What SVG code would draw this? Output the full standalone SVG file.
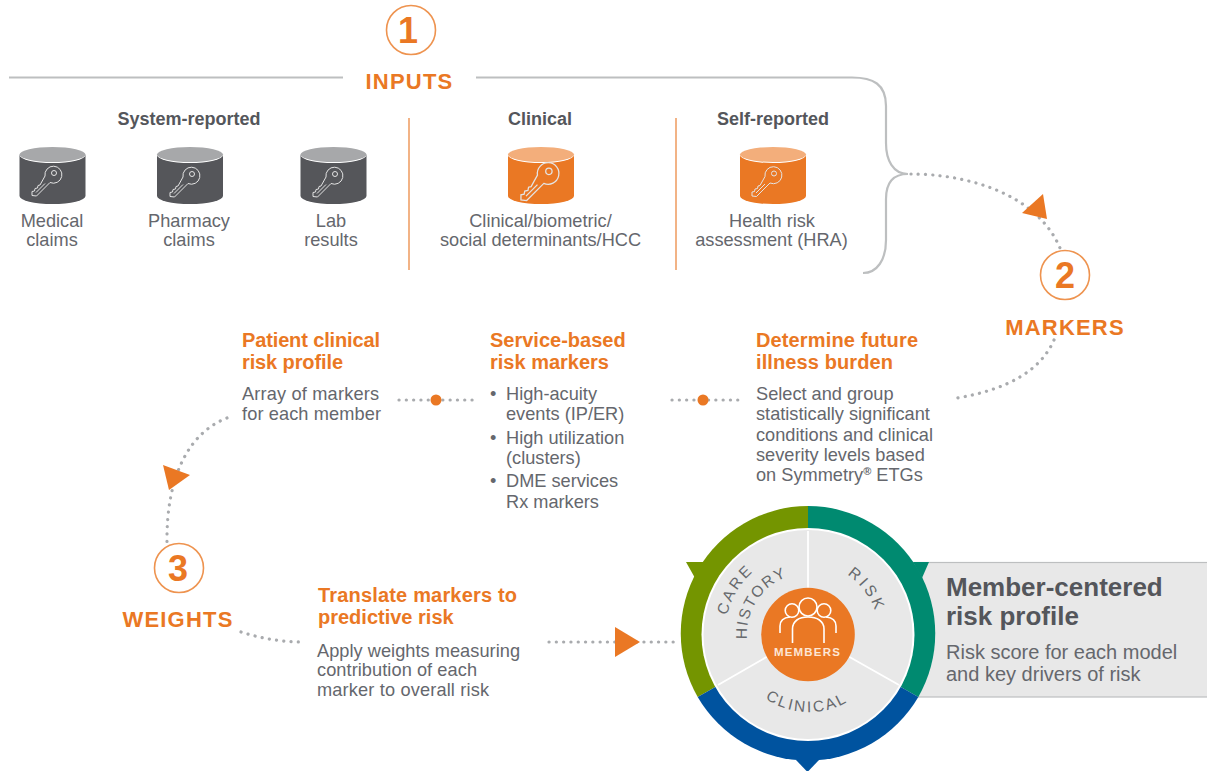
<svg xmlns="http://www.w3.org/2000/svg" width="1207" height="771" viewBox="0 0 1207 771">
<style>
text{font-family:"Liberation Sans",Arial,sans-serif}
.t{font-size:18.2px;fill:#65676d;text-anchor:middle}
.l{font-size:18.2px;fill:#65676d}
.h{font-size:20px;font-weight:700;fill:#ea7824}
.s{font-size:18px;font-weight:700;fill:#54565b;text-anchor:middle}
.big{font-size:22px;font-weight:700;fill:#ea7824;text-anchor:middle;letter-spacing:1.2px}
.num{font-size:36px;font-weight:700;fill:#ea7824;text-anchor:middle}
.c{fill:#fff;stroke:#ee934f;stroke-width:1.6}
.dot{fill:none;stroke:#a9abae;stroke-width:3.2;stroke-linecap:round;stroke-dasharray:0.1 7.2}
.rule{stroke:#ee9a5f;stroke-width:1.5}
.tip{fill:#ea7824}
.key{fill:none;stroke:#e4e4e4;stroke-width:1}
.ring{font-size:15.5px;fill:#66686c}
</style>
<defs>
<g id="key"><path class="key" d="M-2-5A8.500 8.500 0 1 1 3 1.500L-10.500 15-15 14.500-15 10.500-12.500 10-12 7.500-9.500 7-9 4.500-7 4z"/><circle class="key" cx="7" cy="-8" r="2.500"/><path class="key" d="M-11 11.500L-2 2.500"/></g>
<g id="cyl-g"><path d="M-33-17V24A33 8 0 0 0 33 24V-17z" fill="#55565a"/><ellipse cy="-17" rx="33" ry="8" fill="#fff"/><ellipse cy="-17.500" rx="33" ry="7.500" fill="#a7a8aa"/></g>
<g id="cyl-o"><path d="M-33-17V24A33 8 0 0 0 33 24V-17z" fill="#ea7824"/><ellipse cy="-17" rx="33" ry="8" fill="#fff"/><ellipse cy="-17.500" rx="33" ry="7.500" fill="#f3ae7b"/></g>
</defs>
<rect width="1207" height="771" fill="#fff"/>
<g id="connectors">
<path d="M9 77.500H343M476 77.500H852C873 77.500 886 84 886 106V143C886 160 893 174 908 174C893 174 886 182 886 199V240C886 260 877 273 863 273" fill="none" stroke="#bdbfc0" stroke-width="2.200"/>
<path class="dot" d="M911 174C960 174 1035 190 1060 248"/>
<polygon class="tip" points="1022,213 1043,194 1047,219"/>
<path class="dot" d="M1054 340C1040 372 1005 390 957 398"/>
<path class="dot" d="M399 400H476"/><circle class="tip" cx="436" cy="400" r="5.500"/>
<path class="dot" d="M672 400H742"/><circle class="tip" cx="703" cy="400" r="5.500"/>
<path class="dot" d="M227 418C190 432 166 475 167 543"/>
<polygon class="tip" points="163,465 190,475 169,490"/>
<path class="dot" d="M241 632C260 638 280 642 303 642"/>
<path class="dot" d="M549 642H678"/>
<polygon class="tip" points="615,627 640,642 615,657"/>
<path d="M409 118V270M676 118V270" class="rule" fill="none"/>
</g>
<g id="step-1"><circle class="c" cx="411" cy="30" r="24.500"/><text class="num" x="408" y="43">1</text><text class="big" x="409.500" y="89">INPUTS</text></g>
<g id="step-2"><circle class="c" cx="1065" cy="275" r="24.500"/><text class="num" x="1065" y="288">2</text><text class="big" x="1065" y="335">MARKERS</text></g>
<g id="step-3"><circle class="c" cx="179" cy="568" r="24.500"/><text class="num" x="178" y="581">3</text><text class="big" x="178" y="627">WEIGHTS</text></g>
<g id="system-reported"><text class="s" x="189" y="125">System-reported</text></g>
<g id="medical"><use href="#cyl-g" x="52.500" y="172"/><use href="#key" x="47" y="181"/><text class="t" x="52" y="227">Medical</text><text class="t" x="52" y="246">claims</text></g>
<g id="pharmacy"><use href="#cyl-g" x="190" y="172"/><use href="#key" x="185" y="182"/><text class="t" x="189" y="227">Pharmacy</text><text class="t" x="189" y="246">claims</text></g>
<g id="lab"><use href="#cyl-g" x="333.500" y="172"/><use href="#key" x="328" y="182"/><text class="t" x="331" y="227">Lab</text><text class="t" x="331" y="246">results</text></g>
<g id="clinical"><text class="s" x="540" y="125">Clinical</text><use href="#cyl-o" x="541" y="172"/><use href="#key" transform="translate(540 181.500) scale(1.270)"/><text class="t" x="540.500" y="227">Clinical/biometric/</text><text class="t" x="540.500" y="246">social determinants/HCC</text></g>
<g id="self-reported"><text class="s" x="773" y="125">Self-reported</text><use href="#cyl-o" x="773" y="172"/><use href="#key" x="767" y="181.500"/><text class="t" x="772" y="227">Health risk</text><text class="t" x="771.500" y="246">assessment (HRA)</text></g>
<g id="patient-profile"><text class="h" x="242" y="347" textLength="138">Patient clinical</text><text class="h" x="242" y="369" textLength="101">risk profile</text><text class="l" x="242" y="400" textLength="137">Array of markers</text><text class="l" x="242" y="420" textLength="139">for each member</text></g>
<g id="service-markers"><text class="h" x="490" y="347">Service-based</text><text class="h" x="490" y="369">risk markers</text>
<text class="l" x="490" y="400">•</text><text class="l" x="506" y="400">High-acuity</text><text class="l" x="506" y="420">events (IP/ER)</text>
<text class="l" x="490" y="444">•</text><text class="l" x="506" y="444">High utilization</text><text class="l" x="506" y="464">(clusters)</text>
<text class="l" x="490" y="487">•</text><text class="l" x="506" y="487">DME services</text><text class="l" x="506" y="508">Rx markers</text></g>
<g id="future-burden"><text class="h" x="756" y="347" textLength="162">Determine future</text><text class="h" x="756" y="369" textLength="137">illness burden</text><text class="l" x="756" y="400">Select and group</text><text class="l" x="756" y="420">statistically significant</text><text class="l" x="756" y="441">conditions and clinical</text><text class="l" x="756" y="461">severity levels based</text><text class="l" x="756" y="481">on Symmetry<tspan font-size="11" font-weight="700" dy="-6">®</tspan><tspan dy="6"> ETGs</tspan></text></g>
<g id="translate"><text class="h" x="318" y="602" textLength="199">Translate markers to</text><text class="h" x="318" y="624">predictive risk</text><text class="l" x="317" y="657" textLength="203">Apply weights measuring</text><text class="l" x="317" y="676" textLength="160">contribution of each</text><text class="l" x="317" y="696" textLength="172">marker to overall risk</text></g>
<g id="member-profile"><rect x="905" y="562.500" width="303" height="134.500" fill="#e8e8e8" stroke="#bdbfc0" stroke-width="1.200"/>
<text x="946" y="596" font-size="26" font-weight="700" fill="#54565b">Member-centered</text><text x="946" y="625" font-size="26" font-weight="700" fill="#54565b">risk profile</text>
<text class="l" x="946" y="659" style="font-size:20px">Risk score for each model</text><text class="l" x="946" y="681" style="font-size:20px">and key drivers of risk</text></g>
<g id="wheel">
<polygon points="686,562 704,562 695,578" fill="#749500"/>
<polygon points="913,562 929,562 922,578" fill="#008a70"/>
<polygon points="796,760 819,760 807.500,772" fill="#00539f"/>
<path d="M808 506A127.500 127.500 0 0 0 697.700 697L808 634Z" fill="#749500"/>
<path d="M808 506A127.500 127.500 0 0 1 918.300 697L808 634Z" fill="#008a70"/>
<path d="M697.700 697A127.500 127.500 0 0 0 918.300 697L808 634Z" fill="#00539f"/>
<circle cx="808" cy="634.500" r="106.500" fill="#fff"/>
<circle cx="808" cy="634.500" r="104.500" fill="#e8e8e8"/>
<path d="M808 531V600M718 685L770 655M899 685L846 655" stroke="#fff" stroke-width="1.800" fill="none"/>
<circle cx="808" cy="634.500" r="46.800" fill="#ea7824"/>
<g fill="none" stroke="#fff" stroke-width="1.600"><circle cx="808" cy="607" r="9"/><circle cx="792" cy="610.500" r="6.800"/><circle cx="824" cy="610.500" r="6.800"/><path d="M780 633V626C780 620 785 617.500 790 617M836 633V626C836 620 831 617.500 826 617M792.500 643V629C792.500 621 799 617 808 617C817 617 824 621 824 629V643"/></g>
<text x="807.500" y="656" font-size="11.500" font-weight="700" fill="#fde6d6" text-anchor="middle" letter-spacing="1.200">MEMBERS</text>
<path id="arc-care" d="M727.100 615.600A83 83 0 0 1 808 551" fill="none"/>
<path id="arc-history" d="M747.200 639.200A61 61 0 0 1 808 573" fill="none"/>
<path id="arc-risk" d="M847 574.700A71 71 0 0 1 879 634" fill="none"/>
<path id="arc-clinical" d="M765.200 698.600A77.500 77.500 0 0 0 852 699" fill="none"/>
<text class="ring" letter-spacing="2.600"><textPath href="#arc-care">CARE</textPath></text>
<text class="ring" letter-spacing="1.700"><textPath href="#arc-history">HISTORY</textPath></text>
<text class="ring" letter-spacing="3.200"><textPath href="#arc-risk">RISK</textPath></text>
<text class="ring" letter-spacing="2.300"><textPath href="#arc-clinical">CLINICAL</textPath></text>
</g>
</svg>
